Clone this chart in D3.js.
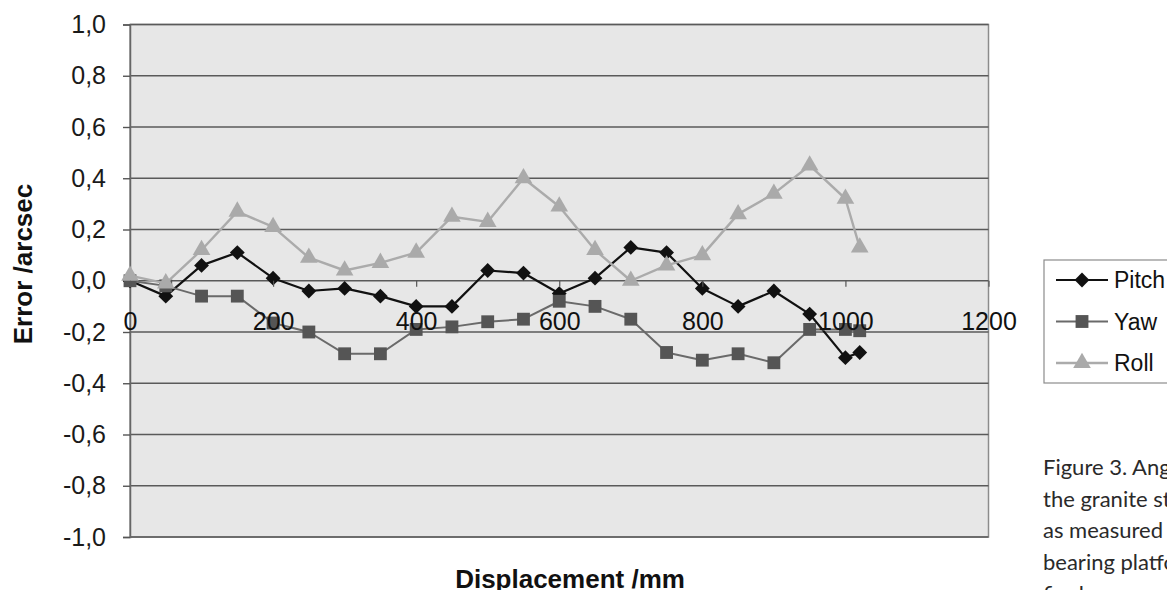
<!DOCTYPE html>
<html>
  <head>
    <meta http-equiv="Content-Type" content="text/html; charset=UTF-8" />
    <title>Angular errors</title>
    <script src="https://cdn.jsdelivr.net/npm/d3@7"></script>
    <style>
      body { margin: 0; background: #ffffff; }
    </style>
  </head>
  <body>
    <svg width="1167" height="590" id="mainsvg"></svg>
    <script>
        // data
        const displacement = [0, 50, 100, 150, 200, 250, 300, 350, 400, 450, 500, 550, 600, 650, 700, 750, 800, 850, 900, 950, 1000, 1020];
        const pitch = [0.00, -0.06, 0.06, 0.11, 0.01, -0.04, -0.03, -0.06, -0.10, -0.10, 0.04, 0.03, -0.05, 0.01, 0.13, 0.11, -0.03, -0.10, -0.04, -0.13, -0.30, -0.28];
        const yaw = [0.00, -0.02, -0.06, -0.06, -0.165, -0.20, -0.285, -0.285, -0.19, -0.18, -0.16, -0.15, -0.08, -0.10, -0.15, -0.28, -0.31, -0.285, -0.32, -0.19, -0.19, -0.195];
        const roll = [0.02, -0.01, 0.12, 0.27, 0.21, 0.09, 0.04, 0.07, 0.11, 0.25, 0.23, 0.40, 0.29, 0.12, 0.00, 0.06, 0.10, 0.26, 0.34, 0.45, 0.32, 0.13];
        const seriesNames = ['Pitch', 'Yaw', 'Roll'];
        const xTicks = [0, 200, 400, 600, 800, 1000, 1200];
        const yTicks = [-1.0, -0.8, -0.6, -0.4, -0.2, 0.0, 0.2, 0.4, 0.6, 0.8, 1.0];
        const caption = ['Figure 3. Angular errors of', 'the granite stage', 'as measured by the', 'bearing platform', 'final'];

        const svg = d3.select('#mainsvg');
        const margin = {top: 24.5, left: 130};
        const innerWidth = 858.5;
        const innerHeight = 512.5;
        const font = 'Liberation Sans, Arial, sans-serif';

        // pitch diamond = square turned by 45 degrees
        const styles = {
          Pitch: {line: '#111111', fill: '#111111', width: 2.2, shape: d3.symbolSquare, size: 110, rot: 45},
          Yaw:   {line: '#6a6a6a', fill: '#555555', width: 2,   shape: d3.symbolSquare, size: 165, rot: 0},
          Roll:  {line: '#ababab', fill: '#aaaaaa', width: 2.4, shape: d3.symbolTriangle, size: 135, rot: 0}
        };
        const values = {Pitch: pitch, Yaw: yaw, Roll: roll};

        const xScale = d3.scaleLinear().domain([0, 1200]).range([0, innerWidth]);
        const yScale = d3.scaleLinear().domain([-1, 1]).range([innerHeight, 0]);

        const g = svg.append('g')
          .attr('transform', `translate(${margin.left}, ${margin.top})`);

        // plot area
        g.append('rect')
          .attr('width', innerWidth).attr('height', innerHeight)
          .attr('fill', '#e7e7e7')
          .attr('stroke', '#8c8c8c').attr('stroke-width', 1.5);

        // horizontal grid lines
        g.selectAll('.grid').data(yTicks).enter().append('line')
          .attr('class', 'grid')
          .attr('x1', 0).attr('x2', innerWidth)
          .attr('y1', d => yScale(d)).attr('y2', d => yScale(d))
          .attr('stroke', '#5a5a5a').attr('stroke-width', 1.4);

        // y axis
        const yAxis = d3.axisLeft(yScale)
          .tickValues(yTicks)
          .tickSize(7)
          .tickPadding(17)
          .tickFormat(d => d3.format('.1f')(d).replace('.', ',').replace('−', '-'));
        const yAxisGroup = g.append('g').call(yAxis);
        yAxisGroup.select('.domain').attr('stroke', '#666666').attr('stroke-width', 1.5);
        yAxisGroup.selectAll('.tick line').attr('stroke', '#555555').attr('stroke-width', 1.4);
        yAxisGroup.selectAll('.tick text')
          .attr('font-family', font).attr('font-size', 25).attr('fill', '#1a1a1a');

        // series
        const line = d3.line()
          .x((d, i) => xScale(displacement[i]))
          .y(d => yScale(d));

        seriesNames.forEach(name => {
          const s = styles[name];
          g.append('path')
            .datum(values[name])
            .attr('fill', 'none')
            .attr('stroke', s.line)
            .attr('stroke-width', s.width)
            .attr('stroke-linejoin', 'round')
            .attr('d', line);
          g.selectAll('.m' + name).data(values[name]).enter().append('path')
            .attr('class', 'm' + name)
            .attr('transform', (d, i) => `translate(${xScale(displacement[i])}, ${yScale(d)}) rotate(${s.rot})`)
            .attr('d', d3.symbol().type(s.shape).size(s.size))
            .attr('fill', s.fill);
        });

        // x axis on the zero line, labels drawn over the series
        const xAxis = d3.axisBottom(xScale)
          .tickValues(xTicks)
          .tickSize(6)
          .tickPadding(25)
          .tickFormat(d3.format('d'));
        const xAxisGroup = g.append('g')
          .attr('transform', `translate(0, ${yScale(0)})`)
          .call(xAxis);
        xAxisGroup.select('.domain').remove();
        xAxisGroup.selectAll('.tick line').attr('stroke', '#555555').attr('stroke-width', 1.2);
        xAxisGroup.selectAll('.tick text')
          .attr('font-family', font).attr('font-size', 25).attr('fill', '#111111');

        // axis titles
        svg.append('text')
          .attr('transform', 'translate(32, 264) rotate(-90)')
          .attr('text-anchor', 'middle')
          .attr('font-family', font).attr('font-size', 26).attr('font-weight', 'bold')
          .attr('fill', '#111111')
          .text('Error /arcsec');
        svg.append('text')
          .attr('x', 570).attr('y', 588)
          .attr('text-anchor', 'middle')
          .attr('font-family', font).attr('font-size', 26).attr('font-weight', 'bold')
          .attr('fill', '#111111')
          .text('Displacement /mm');

        // legend
        const legendG = svg.append('g').attr('transform', 'translate(1044, 260)');
        legendG.append('rect')
          .attr('width', 150).attr('height', 123)
          .attr('fill', '#ffffff')
          .attr('stroke', '#8c8c8c').attr('stroke-width', 1.2);
        const legend = legendG.selectAll('.legend').data(seriesNames).enter().append('g')
          .attr('class', 'legend')
          .attr('transform', (d, i) => `translate(0, ${20 + i * 41.5})`);
        legend.append('line')
          .attr('x1', 12).attr('x2', 64)
          .attr('stroke', d => styles[d].line)
          .attr('stroke-width', d => styles[d].width);
        legend.append('path')
          .attr('transform', d => `translate(38, 0) rotate(${styles[d].rot})`)
          .attr('d', d => d3.symbol().type(styles[d].shape).size(styles[d].size)())
          .attr('fill', d => styles[d].fill);
        legend.append('text')
          .attr('x', 70).attr('dy', '0.35em')
          .attr('font-family', font).attr('font-size', 23).attr('fill', '#111111')
          .text(d => d);

        // caption (cut off by the picture edge, as in the source)
        svg.selectAll('.caption').data(caption).enter().append('text')
          .attr('class', 'caption')
          .attr('x', 1043)
          .attr('y', (d, i) => 475 + i * 31.7)
          .attr('font-family', 'Lato, Open Sans, sans-serif').attr('font-size', 22)
          .attr('fill', '#2a2a2a')
          .text(d => d);
    </script>
  </body>
</html>
